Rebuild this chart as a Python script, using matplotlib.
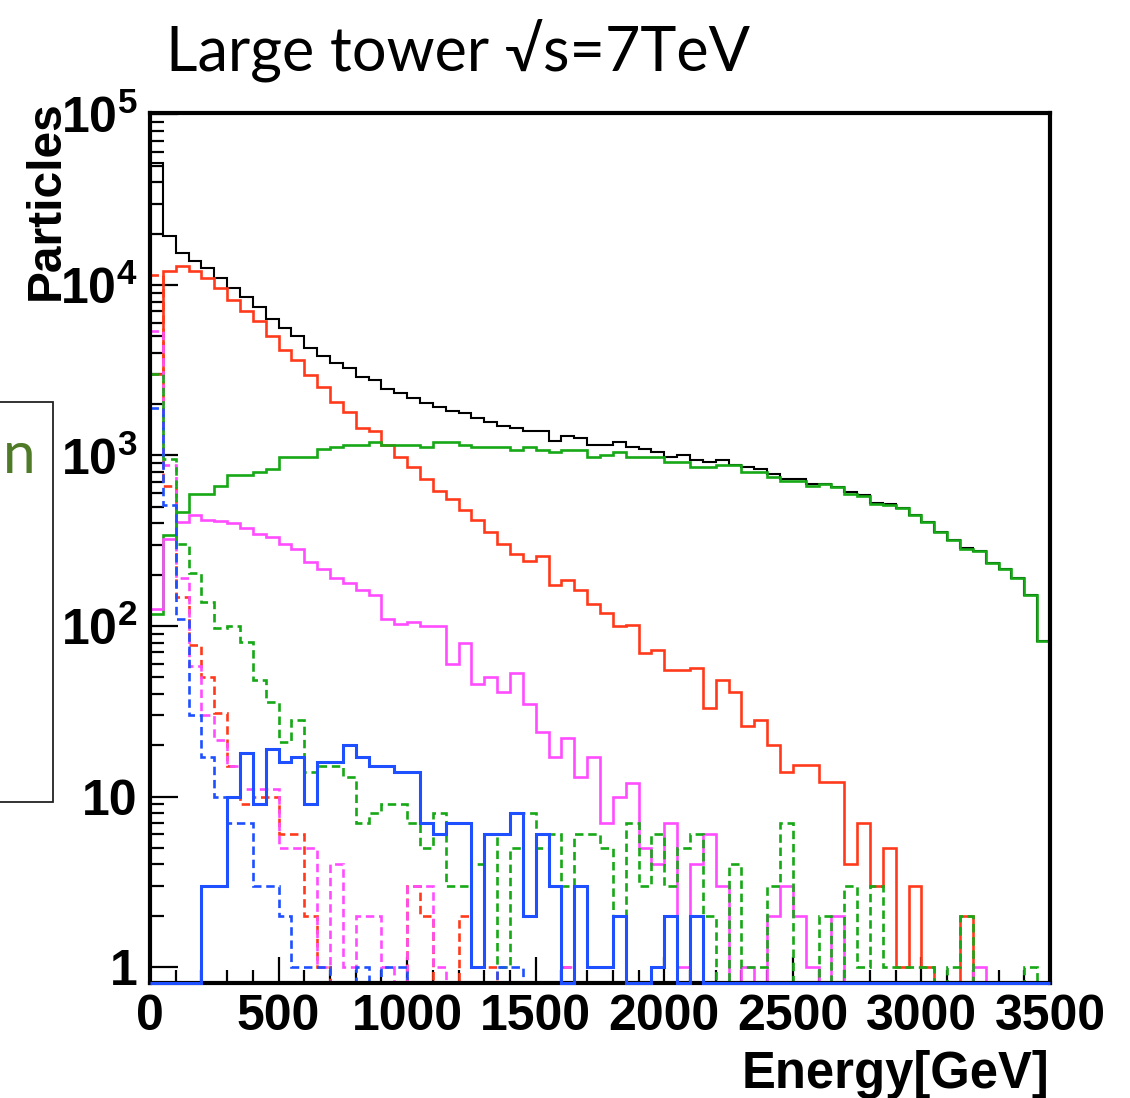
import numpy as np
import matplotlib
matplotlib.use("Agg")
import matplotlib.pyplot as plt
from matplotlib.patches import Rectangle

# energy binning: 70 bins of 50 GeV
edges = np.arange(0, 3501, 50)

# histogram contents (0 = empty bin)
total = [51600, 19300, 15300, 13800, 12500, 11000, 9600, 8470, 7430, 6340,
         5590, 5040, 4260, 3840, 3480, 3280, 2870, 2770, 2455, 2315,
         2165, 2020, 1935, 1830, 1766, 1666, 1564, 1495, 1442, 1397,
         1397, 1220, 1306, 1271, 1150, 1150, 1203, 1118, 1089, 1051,
         978, 1004, 947, 918, 947, 885, 858, 831, 777, 732,
         732, 678, 678, 654, 611, 588, 525, 516, 493, 448,
         408, 355, 320, 286, 276, 234, 216, 191, 152, 82]
red = [3000, 12140, 12990, 12140, 11000, 9600, 8200, 7000, 6110, 5040,
       4170, 3610, 2970, 2525, 2070, 1808, 1443, 1397, 1150, 977,
       858, 732, 617, 559, 477, 417, 355, 303, 265, 242,
       257, 174, 185, 163, 135, 120, 100, 102, 69, 72,
       55, 55, 57, 33, 48, 41, 26, 28, 20, 14,
       15.3, 15.3, 12.2, 12.2, 4, 7, 3, 5, 1, 3,
       1, 0, 0, 2, 0, 0, 0, 0, 0, 0]
green = [118, 343, 465, 598, 598, 660, 773, 773, 805, 835,
         977, 977, 977, 1089, 1119, 1150, 1150, 1192, 1150, 1150,
         1150, 1115, 1192, 1192, 1150, 1115, 1115, 1115, 1075, 1115,
         1075, 1042, 1075, 1075, 977, 1000, 1042, 977, 977, 977,
         918, 918, 858, 858, 885, 885, 802, 802, 748, 704,
         704, 660, 678, 654, 598, 580, 522, 510, 492, 445,
         407, 355, 320, 284, 275, 234, 216, 191, 151, 82]
magenta = [126, 322, 409, 450, 420, 415, 400, 378, 345, 332,
           302, 282, 237, 216, 191, 179, 163, 152, 110, 103,
           106, 100, 100, 60, 79, 46, 50, 41, 53, 35,
           24, 17, 22, 13, 17, 7, 10, 12, 5, 4,
           7, 1, 4, 6, 3, 0, 1, 0, 2, 3,
           2, 1, 0, 2, 0, 0, 0, 0, 0, 0,
           0, 0, 0, 0, 1, 0, 0, 0, 0, 0]
blue = [0, 0, 0, 0, 3, 3, 10, 18, 9, 19,
        16, 17, 9, 16, 16, 20, 17, 15, 15, 14,
        14, 7, 6, 7, 7, 1, 6, 6, 8, 2,
        6, 3, 0, 3, 1, 1, 2, 0, 0, 1,
        2, 0, 2, 0, 0, 0, 0, 0, 0, 0,
        0, 0, 0, 0, 0, 0, 0, 0, 0, 0,
        0, 0, 0, 0, 0, 0, 0, 0, 0, 0]
red_d = [11400, 663, 147, 77, 50, 31, 15, 9, 10, 10,
         6, 6, 2, 1, 0, 0, 0, 0, 0, 0,
         3, 2, 0, 0, 2, 1, 1, 0, 0, 0,
         0, 0, 1, 0, 0, 0, 0, 0, 0, 0,
         0, 0, 0, 0, 0, 0, 0, 0, 0, 0,
         0, 0, 0, 0, 0, 0, 0, 0, 0, 0,
         0, 0, 0, 0, 0, 0, 0, 0, 0, 0]
green_d = [3000, 951, 303, 205, 139, 98, 100, 81, 48, 36,
           21, 28, 14, 15, 15, 13, 7, 8, 9, 9,
           7, 5, 8, 3, 3, 4, 6, 1, 5, 8,
           5, 6, 3, 6, 6, 5, 2, 7, 3, 6,
           3, 5, 6, 2, 0, 4, 1, 1, 3, 7,
           0, 0, 2, 0, 3, 1, 3, 1, 1, 1,
           1, 0, 1, 2, 0, 0, 0, 0, 1, 0]
magenta_d = [5340, 885, 190, 58, 30, 21.5, 15, 11, 11, 11,
             5, 5, 5, 1, 4, 1, 2, 2, 1, 0,
             3, 3, 1, 0, 0, 0, 0, 0, 0, 0,
             0, 0, 1, 0, 0, 0, 0, 0, 0, 0,
             0, 0, 0, 0, 0, 0, 0, 0, 0, 0,
             0, 0, 0, 0, 0, 0, 0, 0, 0, 0,
             0, 0, 0, 0, 0, 0, 0, 0, 0, 0]
blue_d = [1890, 510, 110, 30, 17, 10, 7, 7, 3, 3,
          2, 1, 1, 1, 0, 0, 1, 0, 1, 1,
          0, 0, 0, 0, 0, 0, 0, 1, 1, 0,
          0, 0, 0, 0, 0, 0, 0, 0, 0, 0,
          0, 0, 0, 0, 0, 0, 0, 0, 0, 0,
          0, 0, 0, 0, 0, 0, 0, 0, 0, 0,
          0, 0, 0, 0, 0, 0, 0, 0, 0, 0]

ytick_vals = [1, 10, 100, 1e3, 1e4, 1e5]
ytick_text = ['1', '10', r'$\mathbf{10^{2}}$', r'$\mathbf{10^{3}}$',
              r'$\mathbf{10^{4}}$', r'$\mathbf{10^{5}}$']
xtick_vals = [0, 500, 1000, 1500, 2000, 2500, 3000, 3500]

plt.rcParams['mathtext.fontset'] = 'custom'
plt.rcParams['mathtext.bf'] = 'Liberation Sans:bold'
plt.rcParams['mathtext.rm'] = 'Liberation Sans:bold'

YMIN, YMAX = 0.806, 1.02e5
W, H = 1130, 1098

fig = plt.figure(figsize=(W / 100, H / 100), dpi=100)
ax = fig.add_axes([150 / W, 1 - 983 / H, 900 / W, 870 / H])

RED, GREEN, MAG, BLUE = '#ff3a1c', '#16a816', '#ff4cff', '#1f50ff'
dash = (0, (3.2, 1.8))


def hist(vals, color, lw=1.9, ls='-', z=2, clip=True):
    # ROOT draws empty bins on the lower frame of a log plot
    v = np.array(vals, dtype=float)
    v[v <= 0] = YMIN
    ax.stairs(v, edges, baseline=None, color=color, lw=lw, linestyle=ls,
              zorder=z, clip_on=clip)


hist(total, 'black', lw=1.5)
hist(red, RED)
hist(green, GREEN)
hist(magenta, MAG)
hist(red_d, RED, ls=dash)
hist(magenta_d, MAG, ls=dash)
hist(green_d, GREEN, ls=dash)
hist(blue_d, BLUE, ls=dash)
hist(blue, BLUE, lw=2.2, z=3, clip=False)

ax.set_yscale('log')
ax.set_xlim(0, 3500)
ax.set_ylim(YMIN, YMAX)

ax.set_yticks(ytick_vals)
ax.set_yticklabels(ytick_text)
ax.set_yticks([k * 10 ** d for d in range(0, 5) for k in range(2, 10)], minor=True)
ax.yaxis.set_minor_formatter(matplotlib.ticker.NullFormatter())
ax.set_xticks(xtick_vals)
ax.set_xticklabels([str(v) for v in xtick_vals])
ax.set_xticks(np.arange(0, 3501, 100), minor=True)

ax.tick_params(axis='both', which='both', direction='in', top=False, right=False,
               width=1.6, colors='black')
ax.tick_params(axis='y', which='major', length=20, pad=9)
ax.tick_params(axis='y', which='minor', length=10)
ax.tick_params(axis='x', which='major', length=19, pad=8)
ax.tick_params(axis='x', which='minor', length=9.5)
for lab in ax.get_xticklabels() + ax.get_yticklabels():
    lab.set_fontfamily('Liberation Sans')
    lab.set_fontweight('bold')
    lab.set_fontsize(36)

for sp in ax.spines.values():
    sp.set_linewidth(3)

fig.text(46 / W, 1 - 100 / H, 'Particles', rotation=90, ha='center', va='top',
         family='Liberation Sans', weight='bold', fontsize=34.5)
fig.text(1049 / W, 1 - 1088 / H, 'Energy[GeV]', ha='right', va='baseline',
         family='Liberation Sans', weight='bold', fontsize=36.5)

fig.text(166 / W, 1 - 70 / H, 'Large tower \u221as=7TeV', ha='left', va='baseline',
         family=['Lato', 'DejaVu Sans'], fontsize=44)

# box from the slide, cut off at the left edge
fig.patches.append(Rectangle((-10 / W, 1 - 802 / H), 63 / W, 400 / H,
                             transform=fig.transFigure, fill=False,
                             edgecolor='#222222', lw=1.3))
fig.text(3 / W, 1 - 473 / H, 'n', ha='left', va='baseline',
         family=['Lato', 'DejaVu Sans'], fontsize=42, color='#4f7a28')

fig.savefig('out.png', dpi=100)
